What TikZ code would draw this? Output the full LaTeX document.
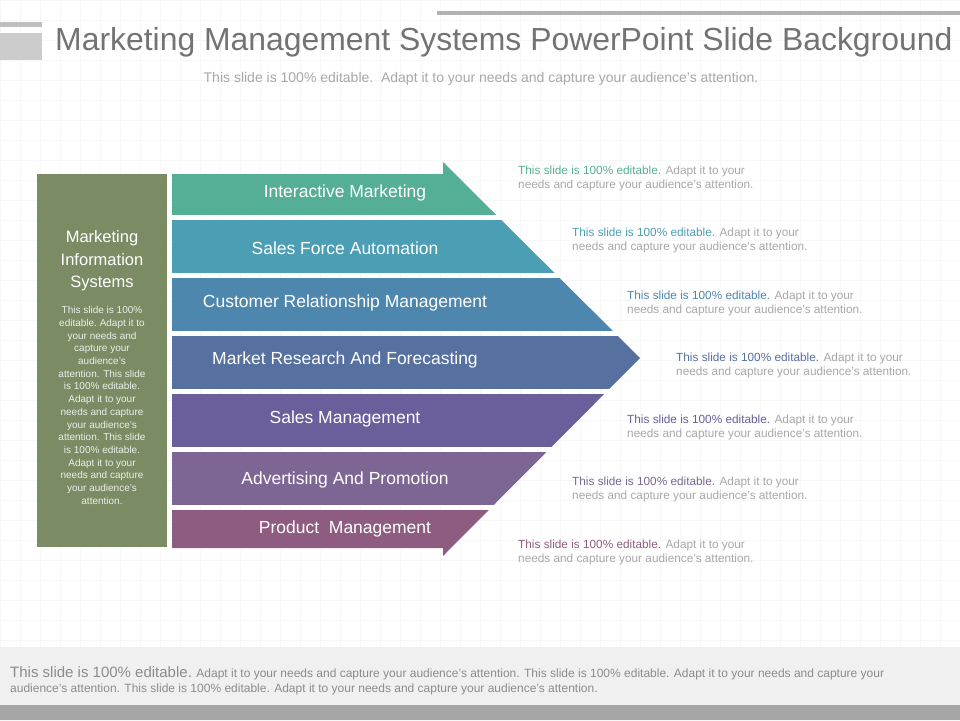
\documentclass[tikz,border=0pt]{standalone}
\usepackage{fontspec}
\setmainfont{Liberation Sans}
\usepackage{tikz}
\definecolor{bandA}{HTML}{55AE96}
\definecolor{bandB}{HTML}{4C9EB5}
\definecolor{bandC}{HTML}{4E87AE}
\definecolor{bandD}{HTML}{56709F}
\definecolor{bandE}{HTML}{6A5E9B}
\definecolor{bandF}{HTML}{7E6694}
\definecolor{bandG}{HTML}{8E5C80}
\definecolor{olivebox}{HTML}{7B8C64}
\definecolor{softgray}{HTML}{A8A8A8}
\begin{document}
\begin{tikzpicture}[x=1pt, y=-1pt,
    bandtext/.style={text=white, font=\fontsize{17.5}{20}\selectfont},
    sidetext/.style={anchor=north west, align=left, text=softgray, font=\fontsize{11.8}{14}\selectfont, inner sep=0pt}]
    \useasboundingbox (0,0) rectangle (960,720);
    \fill[white] (0,0) rectangle (960,720);

    % faint grid
    \foreach \x in {0,20,...,960} {
        \draw[black!3, very thin] (\x,0) -- (\x,720);
    }
    \foreach \y in {0,20,...,720} {
        \draw[black!3, very thin] (0,\y) -- (960,\y);
    }

    % header
    \fill[black!30] (437,11) rectangle (960,15);
    \fill[black!25] (0,22) rectangle (42,27);
    \fill[black!20] (0,33) rectangle (42,60);
    \node[anchor=west, text=black!55, font=\fontsize{31.9}{34}\selectfont, inner sep=0pt] (title) at (55,42)
        {Marketing Management Systems PowerPoint Slide Background};
    \node[text=softgray, font=\fontsize{14}{16}\selectfont] (subtitle) at (481,79)
        {This slide is 100\% editable.\ \ Adapt it to your needs and capture your audience's attention.};

    % left box
    \fill[olivebox] (37,174) rectangle (167,547);
    \node[text=white, align=center, font=\fontsize{16.5}{22.5}\selectfont] (mis) at (102,261)
        {Marketing\\Information\\Systems};
    \node[anchor=north, text=white!85!olivebox, align=center, font=\fontsize{10}{12.7}\selectfont] (mistext) at (102,303)
        {This slide is 100\%\\editable.\ Adapt it to\\your needs and\\capture your\\audience's\\attention. This slide\\is 100\% editable.\\Adapt it to your\\needs and capture\\your audience's\\attention. This slide\\is 100\% editable.\\Adapt it to your\\needs and capture\\your audience's\\attention.};

    % arrow bands
    \foreach \ya/\yb/\col/\lab/\ty/\tx/\sy [count=\i] in {
        160/214/bandA/{Interactive Marketing}/193/518/166,
        220/272/bandB/{Sales Force Automation}/248/572/228,
        278/330/bandC/{Customer Relationship Management}/303/627/291,
        336/388/bandD/{Market Research And Forecasting}/360/676/353,
        394/446/bandE/{Sales Management}/419/627/415,
        452/504/bandF/{Advertising And Promotion}/480/572/477,
        510/558/bandG/{Product\ \ Management}/529/518/540} {
        \begin{scope}
            \clip (0,\ya) rectangle (960,\yb);
            \fill[\col] (172,174) -- (443,174) -- (443,162) -- (640,358)
                -- (443,556) -- (443,548) -- (172,548) -- cycle;
        \end{scope}
        \node[bandtext] (band\i) at (345,\ty) {\lab};
        \node[sidetext] (note\i) at (\tx,\sy)
            {\textcolor{\col}{This slide is 100\% editable.} Adapt it to your\\needs and capture your audience's attention.};
    }

    % footer
    \fill[black!6] (0,647) rectangle (960,705);
    \fill[black!35] (0,705) rectangle (960,720);
    \node[anchor=north west, text=black!45, align=left, inner sep=0pt, font=\fontsize{12}{15.5}\selectfont] (foot) at (10,666)
        {{\fontsize{15}{15.5}\selectfont This slide is 100\% editable.} Adapt it to your needs and capture your audience's attention. This slide is 100\% editable. Adapt it to your needs and capture your\\audience's attention. This slide is 100\% editable. Adapt it to your needs and capture your audience's attention.};
\end{tikzpicture}
\end{document}
